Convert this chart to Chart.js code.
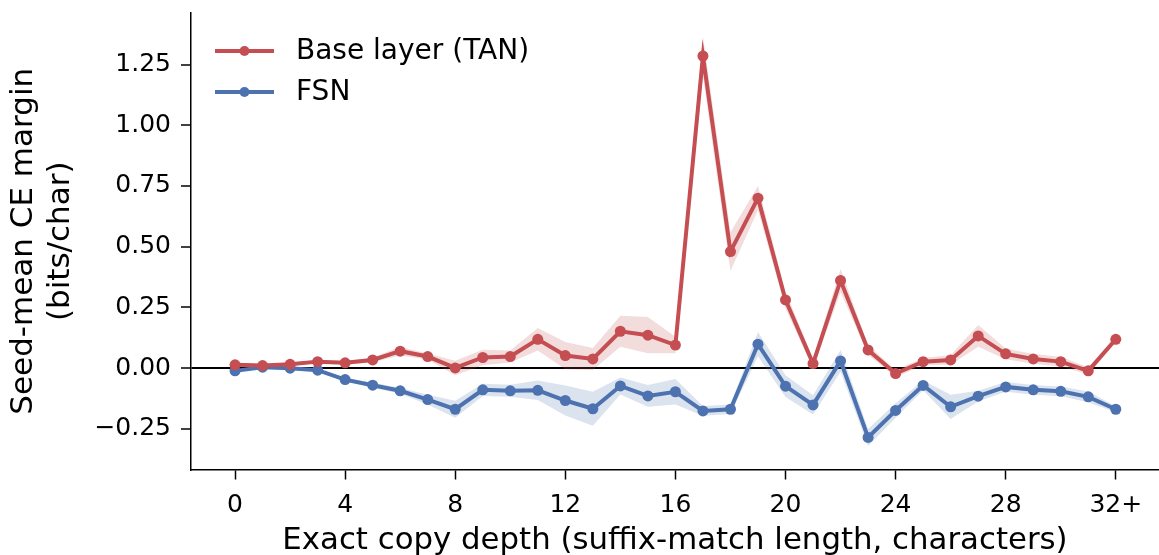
<!DOCTYPE html>
<html>
<head>
<meta charset="utf-8">
<script src="https://cdn.jsdelivr.net/npm/chart.js@4.4.1/dist/chart.umd.min.js"></script>
<style>
  html, body { margin: 0; padding: 0; background: #fff; }
</style>
</head>
<body>
<canvas id="chart" width="1159" height="555"></canvas>
<script>
// copy depth 0..32 (32 = "32+")
const depths = [0, 1, 2, 3, 4, 5, 6, 7, 8, 9, 10, 11, 12, 13, 14, 15, 16,
  17, 18, 19, 20, 21, 22, 23, 24, 25, 26, 27, 28, 29, 30, 31, 32];
const xTicks = [0, 4, 8, 12, 16, 20, 24, 28, 32];
const yTicks = [-0.25, 0, 0.25, 0.5, 0.75, 1.0, 1.25];

// Base layer (TAN): seed-mean margin and band half-width
const tanMean = [0.014, 0.011, 0.016, 0.027, 0.022, 0.034, 0.070, 0.048, 0.001, 0.044, 0.048,
  0.119, 0.052, 0.038, 0.152, 0.136, 0.095, 1.285, 0.480, 0.700, 0.281, 0.019, 0.361,
  0.075, -0.022, 0.027, 0.034, 0.133, 0.059, 0.038, 0.027, -0.011, 0.119];
const tanErr = [0.008, 0.006, 0.006, 0.008, 0.008, 0.010, 0.018, 0.012, 0.030, 0.032, 0.025,
  0.046, 0.056, 0.045, 0.064, 0.075, 0.034, 0.080, 0.080, 0.050, 0.035, 0.020, 0.047,
  0.020, 0.015, 0.015, 0.020, 0.045, 0.022, 0.020, 0.020, 0.015, 0.012];

// FSN
const fsnMean = [-0.011, 0.004, 0.000, -0.008, -0.047, -0.070, -0.093, -0.129, -0.169, -0.089, -0.093,
  -0.091, -0.133, -0.167, -0.073, -0.114, -0.097, -0.176, -0.169, 0.099, -0.074, -0.151, 0.030,
  -0.285, -0.174, -0.071, -0.159, -0.115, -0.077, -0.089, -0.095, -0.118, -0.169];
const fsnErr = [0.006, 0.005, 0.005, 0.006, 0.008, 0.010, 0.012, 0.020, 0.035, 0.025, 0.025,
  0.040, 0.062, 0.070, 0.035, 0.045, 0.052, 0.020, 0.020, 0.050, 0.045, 0.040, 0.045,
  0.035, 0.030, 0.020, 0.050, 0.022, 0.020, 0.020, 0.020, 0.022, 0.012];

const RED = '#c44e52';
const BLUE = '#4c72b0';
const FONT = "'DejaVu Sans', sans-serif";

const pts = (vals) => depths.map((d, i) => ({ x: d, y: vals[i] }));
const band = (mean, err, sign) => pts(mean.map((m, i) => m + sign * err[i]));

function lineSet(label, color, mean) {
  return {
    label, legend: true,
    data: pts(mean),
    borderColor: color,
    backgroundColor: color,
    borderWidth: 4,
    pointRadius: 5.5,
    pointBorderWidth: 0,
    pointBackgroundColor: color,
    fill: false,
    tension: 0,
  };
}

function bandSet(mean, err, sign, fillColor) {
  return {
    data: band(mean, err, sign),
    borderWidth: 0,
    pointRadius: 0,
    backgroundColor: fillColor,
    fill: sign > 0 ? '+1' : false,
    tension: 0,
  };
}

// legend drawn inside the plot area, top-left
const innerLegend = {
  id: 'innerLegend',
  afterDraw(chart) {
    const ctx = chart.ctx;
    const items = chart.data.datasets.filter(d => d.legend);
    ctx.save();
    ctx.font = `28px ${FONT}`;
    ctx.textBaseline = 'middle';
    items.forEach((d, i) => {
      const y = 51 + i * 41;
      ctx.strokeStyle = d.borderColor;
      ctx.lineWidth = 4;
      ctx.beginPath();
      ctx.moveTo(215, y);
      ctx.lineTo(274, y);
      ctx.stroke();
      ctx.fillStyle = d.borderColor;
      ctx.beginPath();
      ctx.arc(244.5, y, 5, 0, Math.PI * 2);
      ctx.fill();
      ctx.fillStyle = '#000';
      ctx.fillText(d.label, 296, y + 1);
    });
    ctx.restore();
  },
};

Chart.defaults.color = '#000';
Chart.defaults.font.family = FONT;

new Chart(document.getElementById('chart'), {
  type: 'line',
  data: {
    datasets: [
      lineSet('Base layer (TAN)', RED, tanMean),
      lineSet('FSN', BLUE, fsnMean),
      bandSet(tanMean, tanErr, 1, 'rgba(196,78,82,0.2)'),
      bandSet(tanMean, tanErr, -1, 'rgba(196,78,82,0.2)'),
      bandSet(fsnMean, fsnErr, 1, 'rgba(76,114,176,0.2)'),
      bandSet(fsnMean, fsnErr, -1, 'rgba(76,114,176,0.2)'),
    ],
  },
  options: {
    responsive: false,
    animation: false,
    devicePixelRatio: 1,
    layout: { autoPadding: false, padding: { top: 13, right: 0, left: 0, bottom: 0 } },
    plugins: {
      legend: { display: false },
      tooltip: { enabled: false },
    },
    scales: {
      x: {
        type: 'linear',
        min: -1.6,
        max: 33.57,
        afterBuildTicks: (scale) => { scale.ticks = xTicks.map(v => ({ value: v })); },
        afterFit: (scale) => {
          scale.height = 85.5;
          scale.paddingLeft = 0;
          scale.paddingRight = 0;
        },
        grid: {
          drawOnChartArea: false,
          drawTicks: true,
          tickLength: 10,
          tickColor: '#000',
          tickWidth: 1.5,
        },
        border: { display: true, color: '#000', width: 1.5 },
        ticks: {
          padding: 11,
          font: { size: 25 },
          maxRotation: 0,
          callback: (v) => (v === 32 ? '32+' : String(v)),
        },
        title: {
          display: true,
          text: 'Exact copy depth (suffix-match length, characters)',
          font: { size: 30.8, lineHeight: 1.0 },
          padding: { top: 0, bottom: -1 },
        },
      },
      y: {
        type: 'linear',
        min: -0.417,
        max: 1.462,
        afterBuildTicks: (scale) => { scale.ticks = yTicks.map(v => ({ value: v })); },
        afterFit: (scale) => {
          scale.width = 191;
          scale.paddingTop = 0;
          scale.paddingBottom = 0;
        },
        grid: {
          drawOnChartArea: true,
          color: (c) => (c.tick && c.tick.value === 0 ? '#000' : 'rgba(0,0,0,0)'),
          lineWidth: 2,
          drawTicks: true,
          tickLength: 10,
          tickColor: '#000',
          tickWidth: 1.5,
        },
        border: { display: true, color: '#000', width: 1.5 },
        ticks: {
          padding: 10,
          font: { size: 25 },
          callback: (v) => (v < 0 ? '\u2212' + Math.abs(v).toFixed(2) : v.toFixed(2)),
        },
        title: {
          display: true,
          text: ['Seed-mean CE margin', '(bits/char)'],
          font: { size: 31, lineHeight: 1.2 },
          padding: { top: 5, bottom: 0 },
        },
      },
    },
  },
  plugins: [innerLegend],
});
</script>
</body>
</html>
